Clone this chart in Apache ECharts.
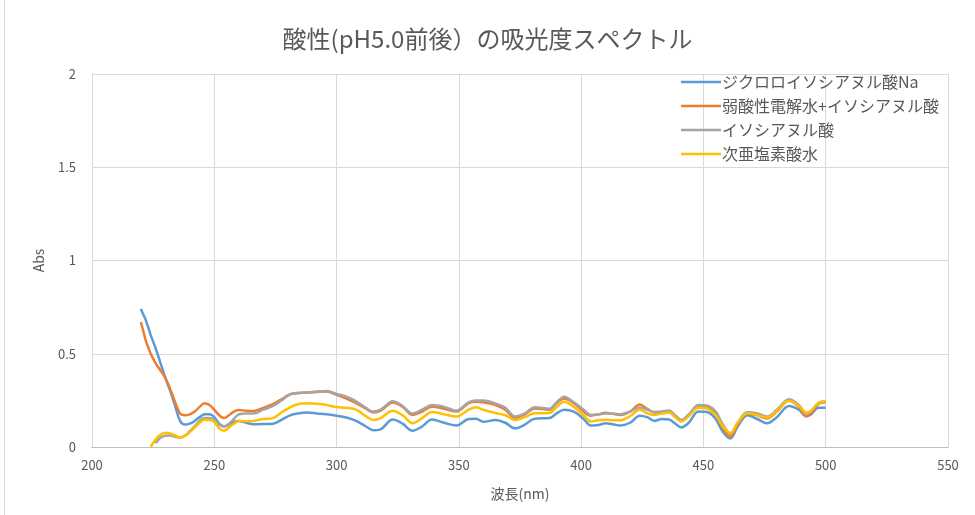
<!DOCTYPE html>
<html>
<head>
<meta charset="utf-8">
<script src="https://cdn.jsdelivr.net/npm/echarts@6/dist/echarts.min.js"></script>
<style>html,body{margin:0;padding:0;background:#fff}#c{width:975px;height:515px}</style>
</head>
<body>
<div id="c"></div>
<script>
var titleText = "酸性(pH5.0前後）の吸光度スペクトル";
var xAxisName = "波長(nm)";
var yAxisName = "Abs";
var seriesNames = ["ジクロロイソシアヌル酸Na", "弱酸性電解水+イソシアヌル酸", "イソシアヌル酸", "次亜塩素酸水"];

var wavelengths = [220,221,222,224,226,228,230,232,234,236,238,240,242,244,246,248,250,252,254,256,258,260,263,266,270,274,278,281,284,288,292,296,300,304,308,312,315,318,323,327,331,335,339,344,349,354,357,360,365,369,373,377,381,387,390,393,397,401,404,407,410,413,416,420,424,427,430,433,436,438,441,444,448,452,455,458,461,464,468,472,476,480,485,489,492,494,497,500];

var dichloroNa = [0.74,0.71,0.68,0.60,0.53,0.45,0.37,0.30,0.22,0.14,0.12,0.125,0.14,0.16,0.175,0.175,0.16,0.125,0.11,0.12,0.135,0.14,0.13,0.122,0.123,0.125,0.15,0.17,0.18,0.185,0.18,0.175,0.168,0.158,0.14,0.11,0.09,0.095,0.147,0.125,0.087,0.11,0.147,0.13,0.115,0.15,0.152,0.135,0.145,0.13,0.10,0.12,0.152,0.155,0.18,0.20,0.19,0.15,0.115,0.118,0.127,0.122,0.115,0.13,0.168,0.16,0.14,0.15,0.148,0.13,0.105,0.13,0.19,0.185,0.15,0.08,0.046,0.11,0.17,0.15,0.127,0.16,0.22,0.20,0.165,0.175,0.21,0.21];

var electrolyzedIso = [0.67,0.62,0.57,0.50,0.45,0.41,0.37,0.31,0.24,0.18,0.17,0.175,0.19,0.215,0.235,0.225,0.20,0.17,0.155,0.17,0.19,0.198,0.195,0.193,0.21,0.23,0.26,0.283,0.288,0.292,0.295,0.297,0.28,0.26,0.235,0.205,0.185,0.195,0.238,0.215,0.172,0.19,0.216,0.205,0.19,0.235,0.243,0.24,0.225,0.20,0.155,0.175,0.207,0.20,0.235,0.26,0.235,0.19,0.168,0.175,0.183,0.178,0.172,0.19,0.228,0.205,0.185,0.185,0.19,0.17,0.142,0.17,0.215,0.21,0.175,0.10,0.055,0.12,0.18,0.17,0.153,0.19,0.248,0.215,0.165,0.18,0.23,0.24];

var isocyanuric = [null,null,null,null,0.02,0.05,0.06,0.062,0.055,0.05,0.06,0.085,0.11,0.14,0.155,0.155,0.145,0.12,0.11,0.125,0.15,0.175,0.18,0.18,0.20,0.22,0.255,0.282,0.29,0.292,0.297,0.30,0.285,0.27,0.245,0.21,0.19,0.20,0.245,0.22,0.18,0.20,0.225,0.215,0.195,0.24,0.25,0.25,0.233,0.21,0.163,0.18,0.213,0.205,0.24,0.27,0.24,0.20,0.172,0.175,0.18,0.178,0.175,0.19,0.212,0.20,0.188,0.19,0.196,0.175,0.145,0.175,0.225,0.22,0.19,0.12,0.07,0.13,0.186,0.18,0.163,0.20,0.256,0.225,0.18,0.19,0.235,0.245];

var hypochlorous = [null,null,null,0.0,0.04,0.065,0.077,0.072,0.062,0.05,0.06,0.08,0.105,0.13,0.146,0.145,0.135,0.10,0.087,0.105,0.125,0.14,0.138,0.14,0.15,0.155,0.19,0.213,0.229,0.234,0.232,0.225,0.214,0.21,0.20,0.165,0.145,0.155,0.195,0.17,0.128,0.155,0.188,0.175,0.163,0.20,0.213,0.20,0.182,0.17,0.145,0.16,0.181,0.182,0.215,0.243,0.215,0.17,0.137,0.143,0.146,0.143,0.143,0.165,0.20,0.18,0.172,0.18,0.185,0.165,0.137,0.165,0.21,0.203,0.17,0.11,0.075,0.13,0.181,0.172,0.158,0.195,0.248,0.22,0.185,0.195,0.235,0.245];

var xTicks = [200,250,300,350,400,450,500,550];
var yTicks = [0,0.5,1,1.5,2];

var colors = ["#5B9BD5", "#ED7D31", "#A5A5A5", "#FFC000"];
var allValues = [dichloroNa, electrolyzedIso, isocyanuric, hypochlorous];

function pairs(vals) {
  var out = [];
  for (var i = 0; i < wavelengths.length; i++) {
    if (vals[i] !== null) out.push([wavelengths[i], vals[i]]);
  }
  return out;
}

var font = '"Noto Sans CJK JP", "Noto Sans", sans-serif';
var chart = echarts.init(document.getElementById('c'));
chart.setOption({
  animation: false,
  backgroundColor: '#fff',
  textStyle: { fontFamily: font },
  title: {
    text: titleText,
    left: 'center',
    top: 22,
    textStyle: { fontFamily: font, fontSize: 24, fontWeight: 'normal', color: '#595959' }
  },
  graphic: [{
    type: 'rect',
    shape: { x: 4.5, y: -2, width: 980, height: 520 },
    style: { fill: 'none', stroke: '#d9d9d9', lineWidth: 1 },
    silent: true
  }],
  legend: {
    orient: 'vertical',
    left: 676,
    top: 69,
    itemGap: 8,
    itemWidth: 40,
    itemHeight: 16,
    icon: 'path://M0,7 L40,7 L40,9.5 L0,9.5 Z',
    textStyle: { fontFamily: font, fontSize: 16, color: '#595959', padding: [0, 0, 0, -4] },
    data: seriesNames
  },
  grid: { left: 92, right: 27, top: 74, bottom: 68, containLabel: false },
  xAxis: {
    type: 'value',
    min: xTicks[0],
    max: xTicks[xTicks.length - 1],
    interval: 50,
    name: xAxisName,
    nameLocation: 'middle',
    nameGap: 40,
    nameTextStyle: { fontFamily: font, fontSize: 14, color: '#595959' },
    axisLine: { show: true, lineStyle: { color: '#bfbfbf', width: 1 } },
    axisTick: { show: false },
    axisLabel: { margin: 12, fontSize: 13, color: '#595959', fontFamily: font },
    splitLine: { show: true, lineStyle: { color: '#d9d9d9', width: 1 } }
  },
  yAxis: {
    type: 'value',
    min: yTicks[0],
    max: yTicks[yTicks.length - 1],
    interval: 0.5,
    name: yAxisName,
    nameLocation: 'middle',
    nameGap: 46,
    nameRotate: 90,
    nameTextStyle: { fontFamily: font, fontSize: 14, color: '#595959' },
    axisLine: { show: false },
    axisTick: { show: false },
    axisLabel: { margin: 16, fontSize: 13, color: '#595959', fontFamily: font },
    splitLine: { show: true, lineStyle: { color: '#d9d9d9', width: 1 } }
  },
  series: seriesNames.map(function (n, i) {
    return {
      name: n,
      type: 'line',
      data: pairs(allValues[i]),
      smooth: 0.35,
      showSymbol: false,
      symbol: 'none',
      lineStyle: { color: colors[i], width: 2.5 },
      itemStyle: { color: colors[i] },
      z: 2 + i
    };
  })
});
</script>
</body>
</html>
